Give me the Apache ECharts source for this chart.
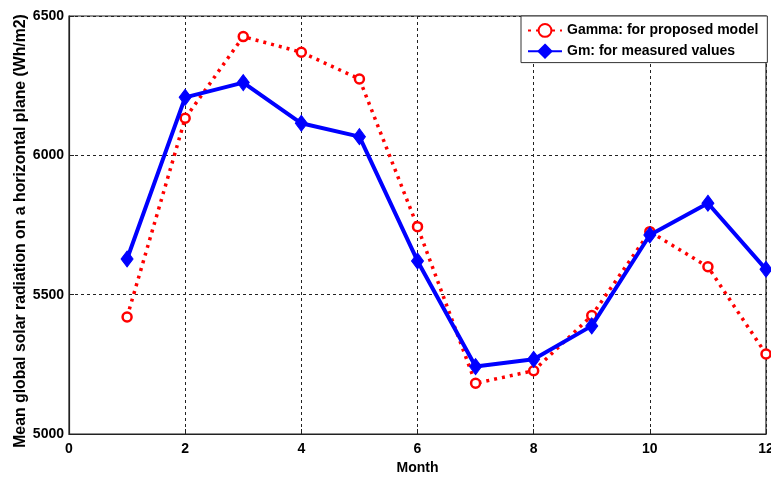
<!DOCTYPE html>
<html>
<head>
<meta charset="utf-8">
<script src="https://cdn.jsdelivr.net/npm/echarts@6/dist/echarts.min.js"></script>
<style>
  html, body { margin: 0; padding: 0; background: #fff; }
  #chart { width: 771px; height: 477px; }
</style>
</head>
<body>
<div id="chart"></div>
<script>
// Monthly mean global solar radiation on a horizontal plane (Wh/m2)
const months = [1, 2, 3, 4, 5, 6, 7, 8, 9, 10, 11, 12];
const gammaModel = [5420, 6133, 6426, 6370, 6274, 5744, 5182, 5227, 5425, 5726, 5600, 5287];
const gmMeasured = [5628, 6208, 6261, 6115, 6067, 5621, 5242, 5268, 5388, 5714, 5828, 5591];
const xTicks = [0, 2, 4, 6, 8, 10, 12];
const yTicks = [5000, 5500, 6000, 6500];

const font = 'Liberation Sans, Arial, sans-serif';
const chart = echarts.init(document.getElementById('chart'));

chart.setOption({
  animation: false,
  backgroundColor: '#fff',
  grid: {
    left: 69, top: 16, width: 697, height: 418,
    outerBoundsMode: 'none', containLabel: false,
    show: true, borderColor: '#222', borderWidth: 1.2, backgroundColor: 'transparent'
  },
  legend: {
    orient: 'vertical',
    left: 521, top: 16,
    padding: [7, 9, 4, 6],
    itemGap: 6,
    itemWidth: 34, itemHeight: 16,
    backgroundColor: '#fff',
    borderColor: '#333', borderWidth: 1,
    textStyle: { fontFamily: font, fontSize: 14, fontWeight: 'bold', color: '#000' },
    data: ['Gamma: for proposed model', 'Gm: for measured values']
  },
  xAxis: {
    type: 'value', min: xTicks[0], max: xTicks[xTicks.length - 1], interval: 2,
    name: 'Month', nameLocation: 'middle', nameGap: 25,
    nameTextStyle: { fontFamily: font, fontSize: 14, fontWeight: 'bold', color: '#000' },
    axisLine: { show: true, lineStyle: { color: '#222', width: 1.2 } },
    axisTick: { show: true, inside: true, length: 5, lineStyle: { color: '#222' } },
    axisLabel: { fontFamily: font, fontSize: 14, fontWeight: 'bold', color: '#000', margin: 8 },
    splitLine: { show: true, lineStyle: { color: '#222', type: [3, 3], width: 1 } }
  },
  yAxis: {
    type: 'value', min: yTicks[0], max: yTicks[yTicks.length - 1], interval: 500,
    name: 'Mean global solar radiation on a horizontal plane (Wh/m2)',
    nameLocation: 'middle', nameGap: 40, nameMoveOverlap: false,
    nameTextStyle: { fontFamily: font, fontSize: 15.8, fontWeight: 'bold', color: '#000',
      padding: [0, 12, 0, 0] },
    axisLine: { show: true, lineStyle: { color: '#222', width: 1.2 } },
    axisTick: { show: true, inside: true, length: 5, lineStyle: { color: '#222' } },
    axisLabel: { fontFamily: font, fontSize: 14, fontWeight: 'bold', color: '#000', margin: 5,
      formatter: v => String(v) },
    splitLine: { show: true, lineStyle: { color: '#222', type: [3, 3], width: 1 } }
  },
  series: [
    {
      name: 'Gamma: for proposed model',
      type: 'line',
      data: months.map((m, i) => [m, gammaModel[i]]),
      symbol: 'circle', symbolSize: 9,
      itemStyle: { color: '#fff', borderColor: '#ff0000', borderWidth: 2.5 },
      lineStyle: { color: '#ff0000', width: 3.5, type: [3, 5] },
      z: 2
    },
    {
      name: 'Gm: for measured values',
      type: 'line',
      data: months.map((m, i) => [m, gmMeasured[i]]),
      symbol: 'diamond', symbolSize: [12, 16],
      itemStyle: { color: '#0000ff', borderColor: '#0000ff', borderWidth: 1 },
      lineStyle: { color: '#0000ff', width: 4 },
      z: 3
    }
  ]
});
</script>
</body>
</html>
